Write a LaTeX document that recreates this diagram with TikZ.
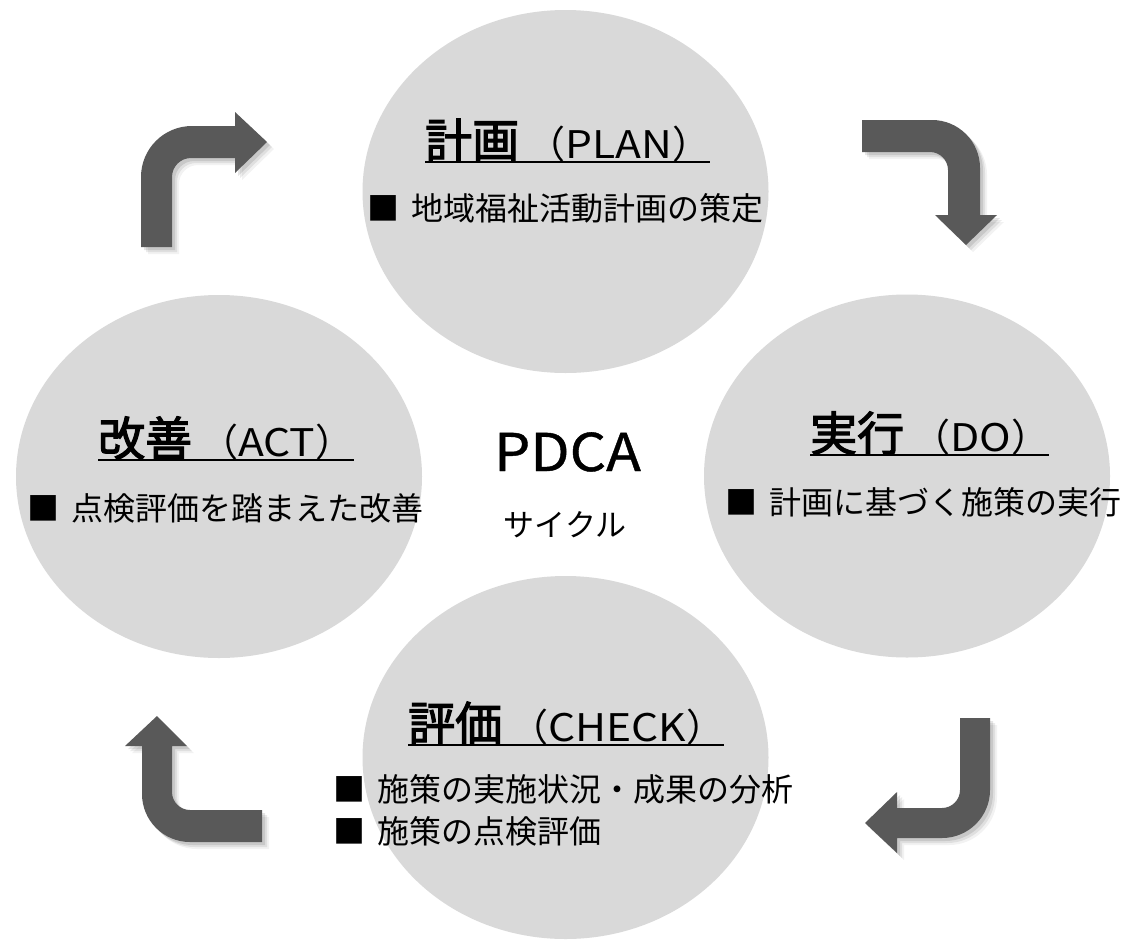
\documentclass[tikz,border=0pt]{standalone}
\usepackage{fontspec}
\setmainfont{Noto Sans CJK JP}
\newfontfamily\kanjib[FakeBold=2.5]{Noto Sans CJK JP}
\newfontfamily\latw[FakeStretch=1.12]{Noto Sans CJK JP}
\newfontfamily\latp[FakeStretch=1.1, FakeBold=0.8]{Noto Sans CJK JP}
\usetikzlibrary{shapes.geometric}
\definecolor{circgray}{HTML}{D9D9D9}
\definecolor{arrgray}{HTML}{595959}
\tikzset{
  phase/.style={ellipse, fill=circgray, draw=none, minimum width=406pt, minimum height=363pt, inner sep=0pt},
  ttl/.style={anchor=base west, inner sep=0pt, text=black},
  bul/.style={anchor=base west, inner sep=0pt, text=black, font=\fontsize{32}{42}\selectfont},
  ul/.style={line width=2.2pt, black},
  arrA/.pic={\fill[pic actions] (141,247) -- (141,177) .. controls (141,148.8) and (163.8,126) .. (192,126) -- (235,126) -- (235,112) -- (267,142) -- (235,173) -- (235,158) -- (191,158) .. controls (180.5,158) and (172,166.5) .. (172,177) -- (172,247) -- cycle;},
  arrB/.pic={\fill[pic actions] (862,120) -- (932,120) .. controls (958.5,120) and (980,141.5) .. (980,168) -- (980,215) -- (997,215) -- (966,245) -- (935,215) -- (948,215) -- (948,170) .. controls (948,160.1) and (939.9,152) .. (930,152) -- (862,152) -- cycle;},
  arrC/.pic={\fill[pic actions] (960,718) -- (990,718) -- (990,790) .. controls (990,816.5) and (968.5,838) .. (942,838) -- (897,838) -- (897,853) -- (865,823) -- (897,792) -- (897,808) -- (942,808) .. controls (951.9,808) and (960,799.9) .. (960,790) -- cycle;},
  arrD/.pic={\fill[pic actions] (262,810) -- (190,810) .. controls (180.1,810) and (172,801.9) .. (172,792) -- (172,746) -- (187,746) -- (157,716) -- (125,746) -- (142,746) -- (142,794) .. controls (142,820.5) and (163.5,842) .. (190,842) -- (262,842) -- cycle;}
}
\newcommand\shadedarrow[1]{%
  \pic[fill=black, opacity=0.05] at (7,7) {#1};
  \pic[fill=black, opacity=0.08] at (5,5) {#1};
  \pic[fill=black, opacity=0.10] at (3,3) {#1};
  \pic[fill=arrgray] at (0,0) {#1};
}
\newcommand\ttltext[2]{{\kanjib\fontsize{47}{47}\selectfont #1}\hspace{8pt}{\fontsize{38}{38}\selectfont （{\latw #2}）}}
\begin{document}
\begin{tikzpicture}[x=1pt, y=-1pt]
\useasboundingbox (0,0) rectangle (1134,940);
\fill[white] (0,0) rectangle (1134,940);

% phases
\node[phase] (plan) at (565.5,191.5) {};
\node[phase] (act) at (219,476.5) {};
\node[phase] (do) at (907,476) {};
\node[phase] (check) at (565.5,757.5) {};

% arrows
\shadedarrow{arrA}
\shadedarrow{arrB}
\shadedarrow{arrC}
\shadedarrow{arrD}

% PLAN
\node[ttl] (tplan) at (425,158) {\ttltext{計画}{PLAN}};
\draw[ul] ([yshift=-4pt]tplan.base west) -- ([yshift=-4pt]tplan.base east);
\node[bul] (bplan) at (367,220) {■\hspace{12pt}地域福祉活動計画の策定};

% ACT
\node[ttl] (tact) at (98,456) {\ttltext{改善}{ACT}};
\draw[ul] ([yshift=-4pt]tact.base west) -- ([yshift=-4pt]tact.base east);
\node[bul] (bact) at (27,520) {■\hspace{12pt}点検評価を踏まえた改善};

% DO
\node[ttl] (tdo) at (810,451) {\ttltext{実行}{DO}};
\draw[ul] ([yshift=-4pt]tdo.base west) -- ([yshift=-4pt]tdo.base east);
\node[bul] (bdo) at (725,514) {■\hspace{12pt}計画に基づく施策の実行};

% CHECK
\node[ttl] (tcheck) at (408,741) {\ttltext{評価}{CHECK}};
\draw[ul] ([yshift=-4pt]tcheck.base west) -- ([yshift=-4pt]tcheck.base east);
\node[bul] (bcheck1) at (333,801) {■\hspace{12pt}施策の実施状況・成果の分析};
\node[bul] (bcheck2) at (333,843) {■\hspace{12pt}施策の点検評価};

% centre
\node[anchor=base, inner sep=0pt, font=\latp\fontsize{52}{52}\selectfont] (pdca) at (567.5,471) {PDCA};
\node[anchor=base, inner sep=0pt, font=\fontsize{31}{31}\selectfont] (cycle) at (565,536) {サイクル};
\end{tikzpicture}
\end{document}
